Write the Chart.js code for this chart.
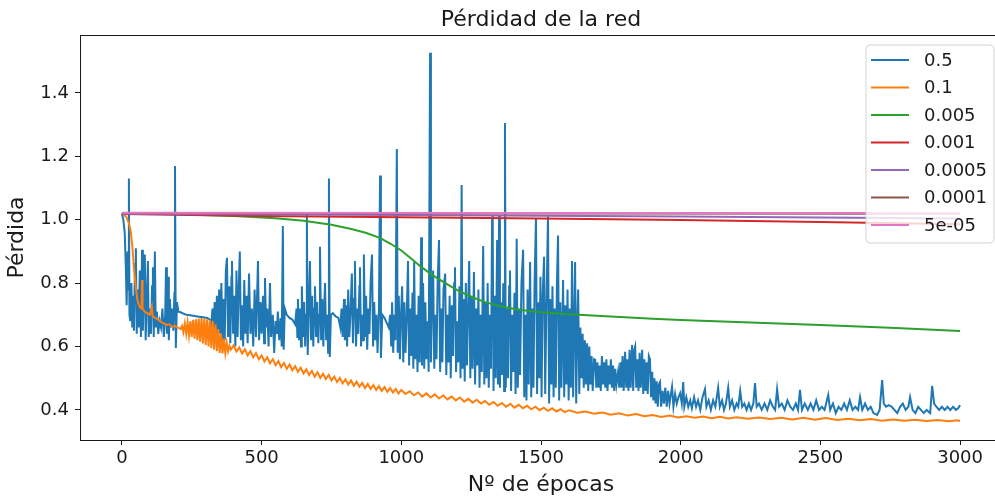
<!DOCTYPE html>
<html>
<head>
<meta charset="utf-8">
<script src="https://cdn.jsdelivr.net/npm/chart.js@4.4.1/dist/chart.umd.min.js"></script>
<style>
  html, body { margin: 0; padding: 0; background: #fff; overflow: hidden; }
  #wrap { width: 1010px; height: 498px; }
</style>
</head>
<body>
<div id="wrap"><canvas id="loss" width="1010" height="498"></canvas></div>
<script>
// ticks
const epochTicks = [0, 500, 1000, 1500, 2000, 2500, 3000];
const lossTicks = [0.4, 0.6, 0.8, 1.0, 1.2, 1.4];

// learning rates (legend)
const rateLabels = ['0.5', '0.1', '0.005', '0.001', '0.0005', '0.0001', '5e-05'];
const rateColors = ['#1f77b4', '#ff7f0e', '#2ca02c', '#d62728', '#9467bd', '#8c564b', '#e377c2'];

// [epoch, loss]
const lossLr05 = [
  [0,1.02],[5,1.0],[10,0.96],[14,0.85],[17,0.73],[20,0.90],[23,0.78],[25,1.13],[27,0.70],[30,0.68],
  [34,0.80],[37,0.66],[40,0.76],[43,0.65],[47,0.86],[50,0.91],[53,0.64],[57,0.78],[60,0.66],[64,0.84],
  [68,0.63],[72,0.905],[75,0.65],[79,0.80],[82,0.89],[85,0.62],[89,0.75],[93,0.87],[96,0.63],[100,0.72],
  [104,0.64],[108,0.79],[111,0.85],[114,0.63],[118,0.90],[121,0.66],[125,0.71],[130,0.64],[135,0.68],[140,0.66],
  [145,0.72],[150,0.63],[155,0.70],[158,0.85],[161,0.64],[165,0.82],[168,0.62],[172,0.75],[176,0.66],[180,0.72],
  [184,0.65],[188,0.77],[190,1.17],[193,0.595],[197,0.74],[202,0.71],
  [210,0.708],[230,0.70],[250,0.698],[270,0.695],[290,0.692],[305,0.69],[315,0.685],
  [320,0.67],[324,0.72],[328,0.64],[332,0.74],[336,0.63],[340,0.76],[344,0.62],[348,0.78],[352,0.64],[356,0.80],
  [360,0.61],[364,0.75],[368,0.62],[372,0.84],[376,0.88],[380,0.63],[384,0.79],[388,0.61],[392,0.82],[394,0.87],
  [398,0.64],[402,0.76],[406,0.60],[410,0.84],[414,0.63],[418,0.78],[422,0.90],[426,0.62],[430,0.73],[434,0.60],
  [438,0.81],[442,0.64],[446,0.76],[450,0.61],[455,0.83],[460,0.64],[465,0.72],[470,0.60],[475,0.78],[480,0.63],
  [487,0.87],[491,0.62],[496,0.74],[500,0.64],[505,0.76],[509,0.61],[512,0.816],[516,0.66],[520,0.72],[525,0.60],
  [530,0.80],[534,0.63],[540,0.70],[545,0.58],[550,0.68],[555,0.64],[558,0.71],[563,0.62],[568,0.69],[572,0.60],
  [576,0.98],[579,0.59],[583,0.72],[590,0.70],[600,0.69],[610,0.685],[620,0.67],[625,0.72],[628,0.63],[630,0.75],
  [634,0.62],[638,0.72],[641,0.60],[644,0.79],[648,0.63],[652,0.74],[656,0.60],[659,0.70],[662,1.015],[665,0.573],
  [669,0.72],[673,0.87],[677,0.62],[681,0.76],[685,0.60],[688,0.72],[691,0.79],[695,0.63],[699,0.74],[703,0.61],
  [706,0.70],[709,0.915],[713,0.62],[717,0.75],[721,0.60],[724,0.72],[727,0.80],[731,0.62],[735,0.70],[738,0.58],
  [741,1.13],[744,0.567],[748,0.70],[755,0.705],[765,0.695],[775,0.69],[782,0.66],[786,0.72],[790,0.63],[795,0.75],
  [798,0.62],[802,0.73],[806,0.60],[810,0.78],[814,0.63],[818,0.70],[823,0.83],[827,0.61],[831,0.75],[834,0.87],
  [838,0.60],[842,0.72],[846,0.64],[850,0.79],[852,0.85],[856,0.60],[860,0.70],[863,0.62],[866,0.89],[870,0.63],
  [874,0.76],[878,0.59],[882,0.72],[886,0.64],[890,0.80],[895,0.89],[899,0.60],[903,0.74],[907,0.62],[911,0.70],
  [915,0.58],[920,0.72],[924,1.14],[927,0.564],[932,0.70],[940,0.69],[948,0.674],[955,0.66],[960,0.70],[964,0.60],
  [967,0.74],[971,0.58],[975,0.70],[979,0.62],[984,1.223],[987,0.58],[991,0.76],[995,0.56],
  [999,0.70],[1003,0.79],[1007,0.55],[1011,0.74],[1015,0.58],[1019,0.68],[1024,0.87],[1028,0.54],[1032,0.72],[1036,0.57],
  [1040,0.77],[1043,0.53],[1046,0.867],[1050,0.56],[1054,0.70],[1058,0.52],[1062,0.76],[1066,0.55],[1071,0.945],[1074,0.54],
  [1078,0.80],[1082,0.53],[1086,0.74],[1090,0.56],[1094,0.68],[1098,0.52],[1103,1.527],[1106,0.55],[1110,0.74],[1114,0.84],
  [1118,0.53],[1122,0.70],[1126,0.56],[1130,0.80],[1135,0.936],[1139,0.52],[1143,0.72],[1147,0.55],[1151,0.78],[1157,0.83],
  [1161,0.51],[1165,0.70],[1169,0.55],[1173,0.76],[1177,0.50],[1181,0.73],[1185,0.57],[1189,0.80],[1192,0.85],[1196,0.52],
  [1200,0.68],[1204,0.55],[1208,0.79],[1212,0.50],[1216,1.11],[1219,0.53],[1223,0.75],[1227,0.49],[1231,0.80],[1235,0.54],
  [1239,0.72],[1243,0.87],[1247,0.50],[1251,0.76],[1255,0.53],[1260,0.835],[1264,0.48],[1268,0.72],[1272,0.54],[1276,0.78],
  [1280,0.47],[1284,0.70],[1288,0.52],[1293,0.917],[1297,0.48],[1301,0.74],[1305,0.50],[1309,0.80],[1313,0.47],[1317,0.70],
  [1321,0.53],[1325,1.0],[1327,1.015],[1330,0.46],[1334,0.76],[1338,0.50],[1343,0.936],[1346,0.48],[1350,1.015],[1353,0.47],
  [1357,0.74],[1361,0.51],[1365,0.80],[1368,0.46],[1371,1.305],[1374,0.47],[1378,0.72],[1382,0.50],[1386,0.79],[1389,0.84],
  [1393,0.46],[1397,0.70],[1401,0.52],[1405,0.77],[1409,0.45],[1413,0.94],[1417,0.47],[1421,0.72],[1425,0.51],[1430,0.80],
  [1436,0.905],[1440,0.44],[1444,0.70],[1448,0.43],[1452,0.78],[1456,0.48],[1461,0.867],[1465,0.44],[1469,0.72],[1473,0.47],
  [1477,0.80],[1482,1.005],[1486,0.45],[1490,0.74],[1494,0.50],[1498,0.82],[1502,0.44],[1506,0.76],[1511,0.883],[1515,0.45],
  [1519,0.70],[1525,1.01],[1529,0.42],[1533,0.75],[1537,0.48],[1541,0.79],[1545,0.44],[1549,0.72],[1553,0.47],[1557,0.80],
  [1561,0.95],[1565,0.43],[1569,0.74],[1573,0.47],[1579,0.81],[1583,0.44],[1587,0.73],[1591,0.48],[1595,0.78],[1599,0.43],
  [1603,0.72],[1607,0.47],[1611,0.87],[1615,0.44],[1619,0.70],[1622,0.867],[1626,0.42],[1630,0.68],[1633,0.78],[1637,0.45],
  [1641,0.66],[1645,0.50],[1649,0.64],[1653,0.47],[1657,0.62],[1661,0.48],[1665,0.61],[1669,0.46],[1673,0.60],[1677,0.48],
  [1681,0.57],[1685,0.46],[1690,0.56],[1694,0.558],[1698,0.47],[1702,0.55],[1706,0.47],[1710,0.54],[1714,0.46],[1718,0.57],
  [1722,0.48],[1726,0.55],[1730,0.47],[1734,0.56],[1738,0.46],[1742,0.54],[1746,0.48],[1750,0.56],[1754,0.47],[1758,0.54],
  [1762,0.46],[1766,0.53],[1770,0.48],[1776,0.52],[1780,0.47],[1784,0.55],[1788,0.47],[1792,0.57],[1796,0.46],[1801,0.583],
  [1805,0.47],[1809,0.56],[1813,0.46],[1817,0.59],[1821,0.47],[1826,0.605],[1830,0.46],[1834,0.59],[1837,0.60],[1841,0.47],
  [1845,0.56],[1849,0.46],[1853,0.58],[1857,0.47],[1862,0.59],[1866,0.45],[1870,0.56],[1874,0.46],[1878,0.55],[1882,0.45],
  [1886,0.57],[1890,0.56],[1894,0.44],[1898,0.52],[1902,0.43],[1906,0.50],[1910,0.42],[1914,0.49],[1918,0.41],[1922,0.48],
  [1926,0.488],[1930,0.41],[1935,0.46],[1940,0.42],[1945,0.47],[1950,0.41],[1955,0.46],[1960,0.42],[1965,0.45],[1969,0.473],
  [1974,0.41],[1980,0.45],[1986,0.42],[1992,0.44],[1998,0.453],
  [2004,0.42],[2009,0.488],[2013,0.41],[2020,0.44],[2027,0.41],[2034,0.43],[2040,0.405],[2048,0.44],[2055,0.41],[2062,0.43],
  [2070,0.40],[2078,0.44],[2087,0.466],[2092,0.41],[2100,0.43],[2108,0.40],[2116,0.43],[2124,0.41],[2134,0.47],[2140,0.41],
  [2148,0.43],[2155,0.40],[2162,0.42],[2170,0.47],[2176,0.41],[2184,0.43],[2192,0.40],[2200,0.42],[2206,0.41],[2213,0.46],
  [2220,0.41],[2228,0.42],[2236,0.40],[2244,0.42],[2252,0.40],[2260,0.42],[2266,0.485],[2272,0.41],[2280,0.42],[2290,0.40],
  [2300,0.42],[2310,0.40],[2320,0.43],[2330,0.41],[2338,0.40],[2345,0.465],[2352,0.41],[2362,0.42],[2372,0.40],[2382,0.43],
  [2392,0.41],[2402,0.40],[2412,0.42],[2420,0.40],[2427,0.463],[2434,0.40],[2444,0.42],[2455,0.40],[2465,0.42],[2475,0.40],
  [2485,0.43],[2495,0.40],[2505,0.41],[2515,0.40],[2528,0.447],[2535,0.40],[2545,0.42],[2555,0.39],[2565,0.41],[2575,0.40],
  [2585,0.42],[2595,0.40],[2605,0.43],[2615,0.40],[2625,0.41],[2635,0.40],[2642,0.44],[2650,0.40],[2660,0.42],[2670,0.40],
  [2680,0.41],[2690,0.39],[2703,0.384],[2712,0.40],[2721,0.494],[2727,0.42],[2735,0.41],[2745,0.415],[2755,0.41],[2765,0.40],
  [2775,0.39],[2785,0.41],[2795,0.42],[2805,0.40],[2815,0.41],[2821,0.44],[2830,0.40],[2840,0.39],[2850,0.41],[2860,0.40],
  [2870,0.39],[2880,0.40],[2893,0.39],[2900,0.476],[2907,0.42],[2915,0.41],[2925,0.40],[2935,0.41],[2945,0.40],[2955,0.41],
  [2965,0.40],[2975,0.41],[2985,0.40],[2993,0.405],[3000,0.415]
];

const lossLr01 = [
  [0,1.02],[15,1.01],[25,0.99],[32,0.96],[38,0.91],[42,0.86],[46,0.82],[50,0.785],[55,0.75],[60,0.733],
  [66,0.722],[70,0.72],[72,0.81],[74,0.72],[80,0.712],[90,0.705],[100,0.70],[107,0.725],[110,0.695],[120,0.69],
  [130,0.685],[140,0.678],[150,0.673],[160,0.668],[170,0.67],[180,0.662],[190,0.665],[200,0.66],[210,0.655],
  [215,0.665],[220,0.645],[225,0.672],[230,0.64],[235,0.676],[240,0.635],[245,0.68],[250,0.63],[255,0.684],[260,0.625],
  [265,0.686],[270,0.62],[275,0.688],[280,0.615],[285,0.69],[290,0.61],[295,0.688],[300,0.605],[305,0.686],[310,0.60],
  [315,0.684],[320,0.595],[325,0.68],[330,0.59],[335,0.67],[340,0.585],[345,0.655],[350,0.58],[355,0.64],[360,0.578],
  [365,0.625],[370,0.58],[375,0.612],[380,0.585],[385,0.602],[390,0.59],
  [400,0.603],[410,0.584],[420,0.597],[430,0.578],[440,0.591],[450,0.572],[460,0.585],[470,0.566],[480,0.579],[490,0.560],
  [500,0.572],[510,0.553],[520,0.566],[530,0.547],[540,0.560],[550,0.541],[560,0.554],[570,0.535],[580,0.548],[590,0.530],
  [600,0.543],[610,0.525],[620,0.538],[630,0.520],[640,0.533],[650,0.515],[660,0.528],[670,0.510],[680,0.523],[690,0.505],
  [700,0.519],[710,0.501],[720,0.514],[730,0.497],[740,0.510],[750,0.493],[760,0.505],[770,0.488],[780,0.501],[790,0.484],
  [800,0.496],[810,0.480],[820,0.493],[830,0.476],[840,0.489],[850,0.473],[860,0.485],[870,0.469],[880,0.482],[890,0.466],
  [900,0.478],[910,0.463],[920,0.475],[930,0.460],[940,0.472],[950,0.457],[960,0.469],[970,0.455],[980,0.466],[990,0.452],
  [1000,0.463],[1015,0.450],[1030,0.459],[1045,0.446],[1060,0.455],[1075,0.442],[1090,0.452],[1105,0.439],[1120,0.449],[1135,0.436],
  [1150,0.446],[1165,0.433],[1180,0.442],[1195,0.430],[1210,0.439],[1225,0.426],[1240,0.435],[1255,0.423],[1270,0.432],[1285,0.420],
  [1300,0.428],[1315,0.416],[1330,0.425],[1345,0.413],[1360,0.422],[1375,0.410],[1390,0.419],[1405,0.407],[1420,0.416],[1435,0.405],
  [1450,0.413],[1465,0.402],[1480,0.410],[1495,0.399],[1510,0.407],[1525,0.397],[1540,0.405],[1555,0.395],[1570,0.402],[1585,0.393],
  [1600,0.399],[1630,0.391],[1660,0.395],[1690,0.388],[1720,0.392],[1750,0.385],[1780,0.389],[1810,0.382],[1840,0.387],[1870,0.380],
  [1900,0.384],[1930,0.378],[1960,0.382],[1990,0.376],[2020,0.380],[2050,0.375],[2080,0.379],[2110,0.374],[2140,0.378],[2170,0.373],
  [2200,0.377],[2240,0.372],[2280,0.376],[2320,0.371],[2360,0.375],[2400,0.370],[2440,0.375],[2480,0.369],[2520,0.374],[2560,0.368],
  [2600,0.372],[2640,0.367],[2680,0.371],[2720,0.366],[2760,0.370],[2800,0.366],[2840,0.369],[2880,0.365],[2920,0.368],[2960,0.364],
  [2990,0.367],[3000,0.365]
];

const lossLr0005 = [
  [0,1.02],[200,1.017],[400,1.012],[550,1.005],[650,0.997],[750,0.984],[825,0.97],[875,0.958],[925,0.942],[960,0.925],
  [1000,0.903],[1035,0.878],[1070,0.852],[1110,0.826],[1150,0.804],[1200,0.778],[1250,0.757],[1300,0.740],[1350,0.728],[1420,0.716],
  [1500,0.708],[1600,0.702],[1700,0.697],[1800,0.692],[1900,0.688],[2000,0.684],[2250,0.676],[2500,0.668],[2750,0.659],[3000,0.649]
];
const lossLr0001 = [[0,1.018],[500,1.012],[1000,1.008],[1500,1.004],[2000,0.999],[2500,0.993],[3000,0.986]];
const lossLr00005 = [[0,1.019],[1000,1.015],[2000,1.01],[3000,1.004]];
const lossLr00001 = [[0,1.021],[1500,1.02],[3000,1.019]];
const lossLr000005 = [[0,1.022],[1500,1.021],[3000,1.021]];

const allSeries = [lossLr05, lossLr01, lossLr0005, lossLr0001, lossLr00005, lossLr00001, lossLr000005];

const FONT = "'DejaVu Sans', sans-serif";
const INK = '#1a1a1a';

const datasets = allSeries.map((pts, i) => ({
  label: rateLabels[i],
  data: pts.map(p => ({x: p[0], y: p[1]})),
  borderColor: rateColors[i],
  borderWidth: 2,
  pointRadius: 0,
  tension: 0,
  fill: false,
  order: allSeries.length - i   // later series on top, like matplotlib
}));

const framePlugin = {
  id: 'frame',
  afterDatasetsDraw(chart) {
    const {ctx, chartArea: a} = chart;
    ctx.save();
    // top + right spines
    ctx.strokeStyle = INK;
    ctx.lineWidth = 1;
    ctx.beginPath();
    ctx.moveTo(a.left, a.top + 0.5);
    ctx.lineTo(a.right, a.top + 0.5);
    ctx.lineTo(a.right - 0.5, a.bottom);
    ctx.stroke();

    // legend box
    const bx = 866, by = 45, bw = 128, bh = 198, r = 4;
    ctx.beginPath();
    ctx.moveTo(bx + r, by);
    ctx.arcTo(bx + bw, by, bx + bw, by + bh, r);
    ctx.arcTo(bx + bw, by + bh, bx, by + bh, r);
    ctx.arcTo(bx, by + bh, bx, by, r);
    ctx.arcTo(bx, by, bx + bw, by, r);
    ctx.closePath();
    ctx.fillStyle = 'rgba(255,255,255,0.8)';
    ctx.fill();
    ctx.strokeStyle = '#d3d3d3';
    ctx.stroke();

    ctx.font = '18px ' + FONT;
    ctx.textBaseline = 'middle';
    ctx.textAlign = 'left';
    rateLabels.forEach((lab, i) => {
      const y = 60 + i * 27.5;
      ctx.strokeStyle = rateColors[i];
      ctx.lineWidth = 2;
      ctx.beginPath();
      ctx.moveTo(871, y);
      ctx.lineTo(909, y);
      ctx.stroke();
      ctx.fillStyle = INK;
      ctx.fillText(lab, 924, y + 1);
    });

    // title
    ctx.font = '22px ' + FONT;
    ctx.textAlign = 'center';
    ctx.textBaseline = 'alphabetic';
    ctx.fillText('Pérdidad de la red', (a.left + a.right) / 2, 26);
    ctx.restore();
  }
};

new Chart(document.getElementById('loss'), {
  type: 'line',
  data: {datasets},
  options: {
    responsive: false,
    animation: false,
    devicePixelRatio: 1,
    layout: {padding: {top: 35, right: 8, left: 0, bottom: 0}},
    plugins: {legend: {display: false}, title: {display: false}, tooltip: {enabled: false}},
    scales: {
      x: {
        type: 'linear',
        min: -150,
        max: 3150,
        afterFit(s) { s.height = 58; },
        afterBuildTicks(s) { s.ticks = epochTicks.map(v => ({value: v})); },
        grid: {drawOnChartArea: false, drawTicks: true, tickLength: 5, color: INK},
        border: {color: INK, width: 1},
        ticks: {color: INK, font: {family: FONT, size: 18}, padding: 3, maxRotation: 0,
                callback: v => String(v)},
        title: {display: true, text: 'Nº de épocas', color: INK, font: {family: FONT, size: 22},
                padding: {top: 0, bottom: 0}}
      },
      y: {
        type: 'linear',
        min: 0.305,
        max: 1.583,
        afterFit(s) { s.width = 80; },
        afterBuildTicks(s) { s.ticks = lossTicks.map(v => ({value: v})); },
        grid: {drawOnChartArea: false, drawTicks: true, tickLength: 5, color: INK},
        border: {color: INK, width: 1},
        ticks: {color: INK, font: {family: FONT, size: 18}, padding: 6,
                callback: v => Number(v).toFixed(1)},
        title: {display: true, text: 'Pérdida', color: INK, font: {family: FONT, size: 22},
                padding: {top: 4, bottom: 0}}
      }
    }
  },
  plugins: [framePlugin]
});
</script>
</body>
</html>
